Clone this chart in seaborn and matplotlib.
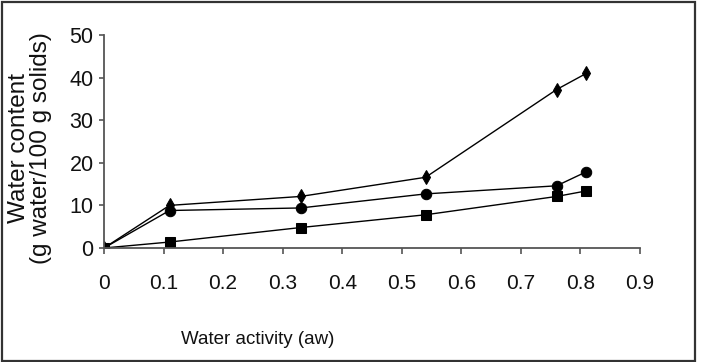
import matplotlib
matplotlib.use("Agg")
import matplotlib.pyplot as plt
import seaborn as sns
import pandas as pd
from matplotlib.patches import Rectangle

# Data
aw = [0.0, 0.11, 0.33, 0.54, 0.76, 0.81]
diamond_series = [0.0, 10.0, 12.1, 16.6, 37.2, 41.0]
circle_series = [0.0, 8.8, 9.4, 12.7, 14.6, 17.9]
square_series = [0.0, 1.4, 4.8, 7.8, 12.1, 13.4]
series_names = ["A", "B", "C"]
x_ticks = [0, 0.1, 0.2, 0.3, 0.4, 0.5, 0.6, 0.7, 0.8, 0.9]
x_tick_labels = ["0", "0.1", "0.2", "0.3", "0.4", "0.5", "0.6", "0.7", "0.8", "0.9"]
y_ticks = [0, 10, 20, 30, 40, 50]

df = pd.DataFrame({
    "aw": aw * 3,
    "water": diamond_series + circle_series + square_series,
    "series": [s for s in series_names for _ in aw],
})

sns.set_theme(style="white")
plt.rcParams["font.family"] = ["Liberation Sans", "DejaVu Sans"]

fig = plt.figure(figsize=(7.06, 3.62), dpi=100)
ax = fig.add_axes([104/706, 1 - 248/362, 536/706, 213/362])

sns.lineplot(data=df, x="aw", y="water", style="series", hue="series",
             palette=["black", "black", "black"],
             markers={"A": "d", "B": "o", "C": "s"}, dashes=False,
             markersize=7.5, markeredgecolor="black", linewidth=1.0,
             legend=False, ax=ax, sort=True)

ax.set_xlim(0, 0.9)
ax.set_ylim(0, 50)
ax.set_xticks(x_ticks)
ax.set_xticklabels(x_tick_labels)
ax.set_yticks(y_ticks)
ax.tick_params(axis="x", direction="out", length=4, width=1.2, color="#555555",
               pad=15, labelsize=15, bottom=True, labelcolor="#111111")
ax.tick_params(axis="y", direction="out", length=3.5, width=1.2, color="#555555",
               pad=4, labelsize=15.5, left=True, labelcolor="#111111")
for side in ["top", "right"]:
    ax.spines[side].set_visible(False)
for side in ["left", "bottom"]:
    ax.spines[side].set_color("#555555")
    ax.spines[side].set_linewidth(1.3)
ax.grid(False)

ax.set_xlabel("Water activity (aw)", fontsize=13.5, color="#111111", va="center")
ax.xaxis.set_label_coords((258 - 104) / 536, (248 - 340) / 213)
ax.set_ylabel("Water content\n(g water/100 g solids)", fontsize=17.5,
              linespacing=0.95, va="center", ha="center", color="#111111")
ax.yaxis.set_label_coords((30 - 104) / 536, (248 - 148) / 213)

fig.patches.append(Rectangle((2/706, 1/362), 693/706, 359/362, transform=fig.transFigure,
                             fill=False, edgecolor="#333333", linewidth=1.6))

fig.savefig("out.png", dpi=100, facecolor="white")
